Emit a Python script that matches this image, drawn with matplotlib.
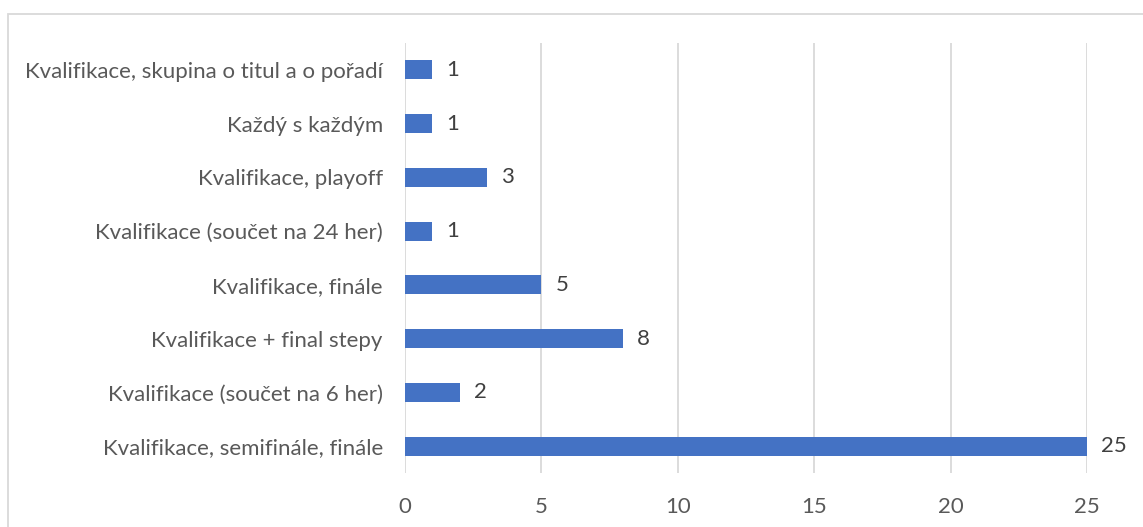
import matplotlib
matplotlib.use("Agg")
import matplotlib.pyplot as plt
from matplotlib.patches import Rectangle

categories = [
    "Kvalifikace, semifinále, finále",
    "Kvalifikace (součet na 6 her)",
    "Kvalifikace + final stepy",
    "Kvalifikace, finále",
    "Kvalifikace (součet na 24 her)",
    "Kvalifikace, playoff",
    "Každý s každým",
    "Kvalifikace, skupina o titul a o pořadí",
]
values = [25, 2, 8, 5, 1, 3, 1, 1]
xticks = [0, 5, 10, 15, 20, 25]

plt.rcParams['font.family'] = ['Lato', 'DejaVu Sans']
W, H = 1143, 527
fs = 16
fig = plt.figure(figsize=(W / 100, H / 100), dpi=100)
ax = fig.add_axes([405 / W, 1 - 473 / H, (1087 - 405) / W, (473 - 43) / H])

txt = "#595959"
ypos = list(range(len(categories)))
ax.barh(ypos, values, height=0.35, color="#4472C4", zorder=3)
for y, v in zip(ypos, values):
    ax.annotate(str(v), (v, y), xytext=(14, 0), textcoords="offset pixels",
                va="center", ha="left", fontsize=fs, color="#404040")

ax.set_ylim(-0.5, len(categories) - 0.5)
ax.set_xlim(0, 25)
ax.set_yticks(ypos)
ax.set_yticklabels(categories, fontsize=fs, color=txt)
ax.set_xticks(xticks)
ax.set_xticklabels([str(t) for t in xticks], fontsize=fs, color=txt)
ax.tick_params(axis="both", length=0)
ax.tick_params(axis="y", pad=16)
ax.tick_params(axis="x", pad=17)
ax.grid(axis="x", color="#d9d9d9", linewidth=1.3, zorder=0)
for s in ax.spines.values():
    s.set_visible(False)

fig.patches.append(Rectangle((8 / W, -0.05), 1.2, 1 - 14 / H + 0.05,
                             transform=fig.transFigure, fill=False,
                             edgecolor="#d9d9d9", linewidth=1.3))

fig.savefig("out.png", dpi=100)
